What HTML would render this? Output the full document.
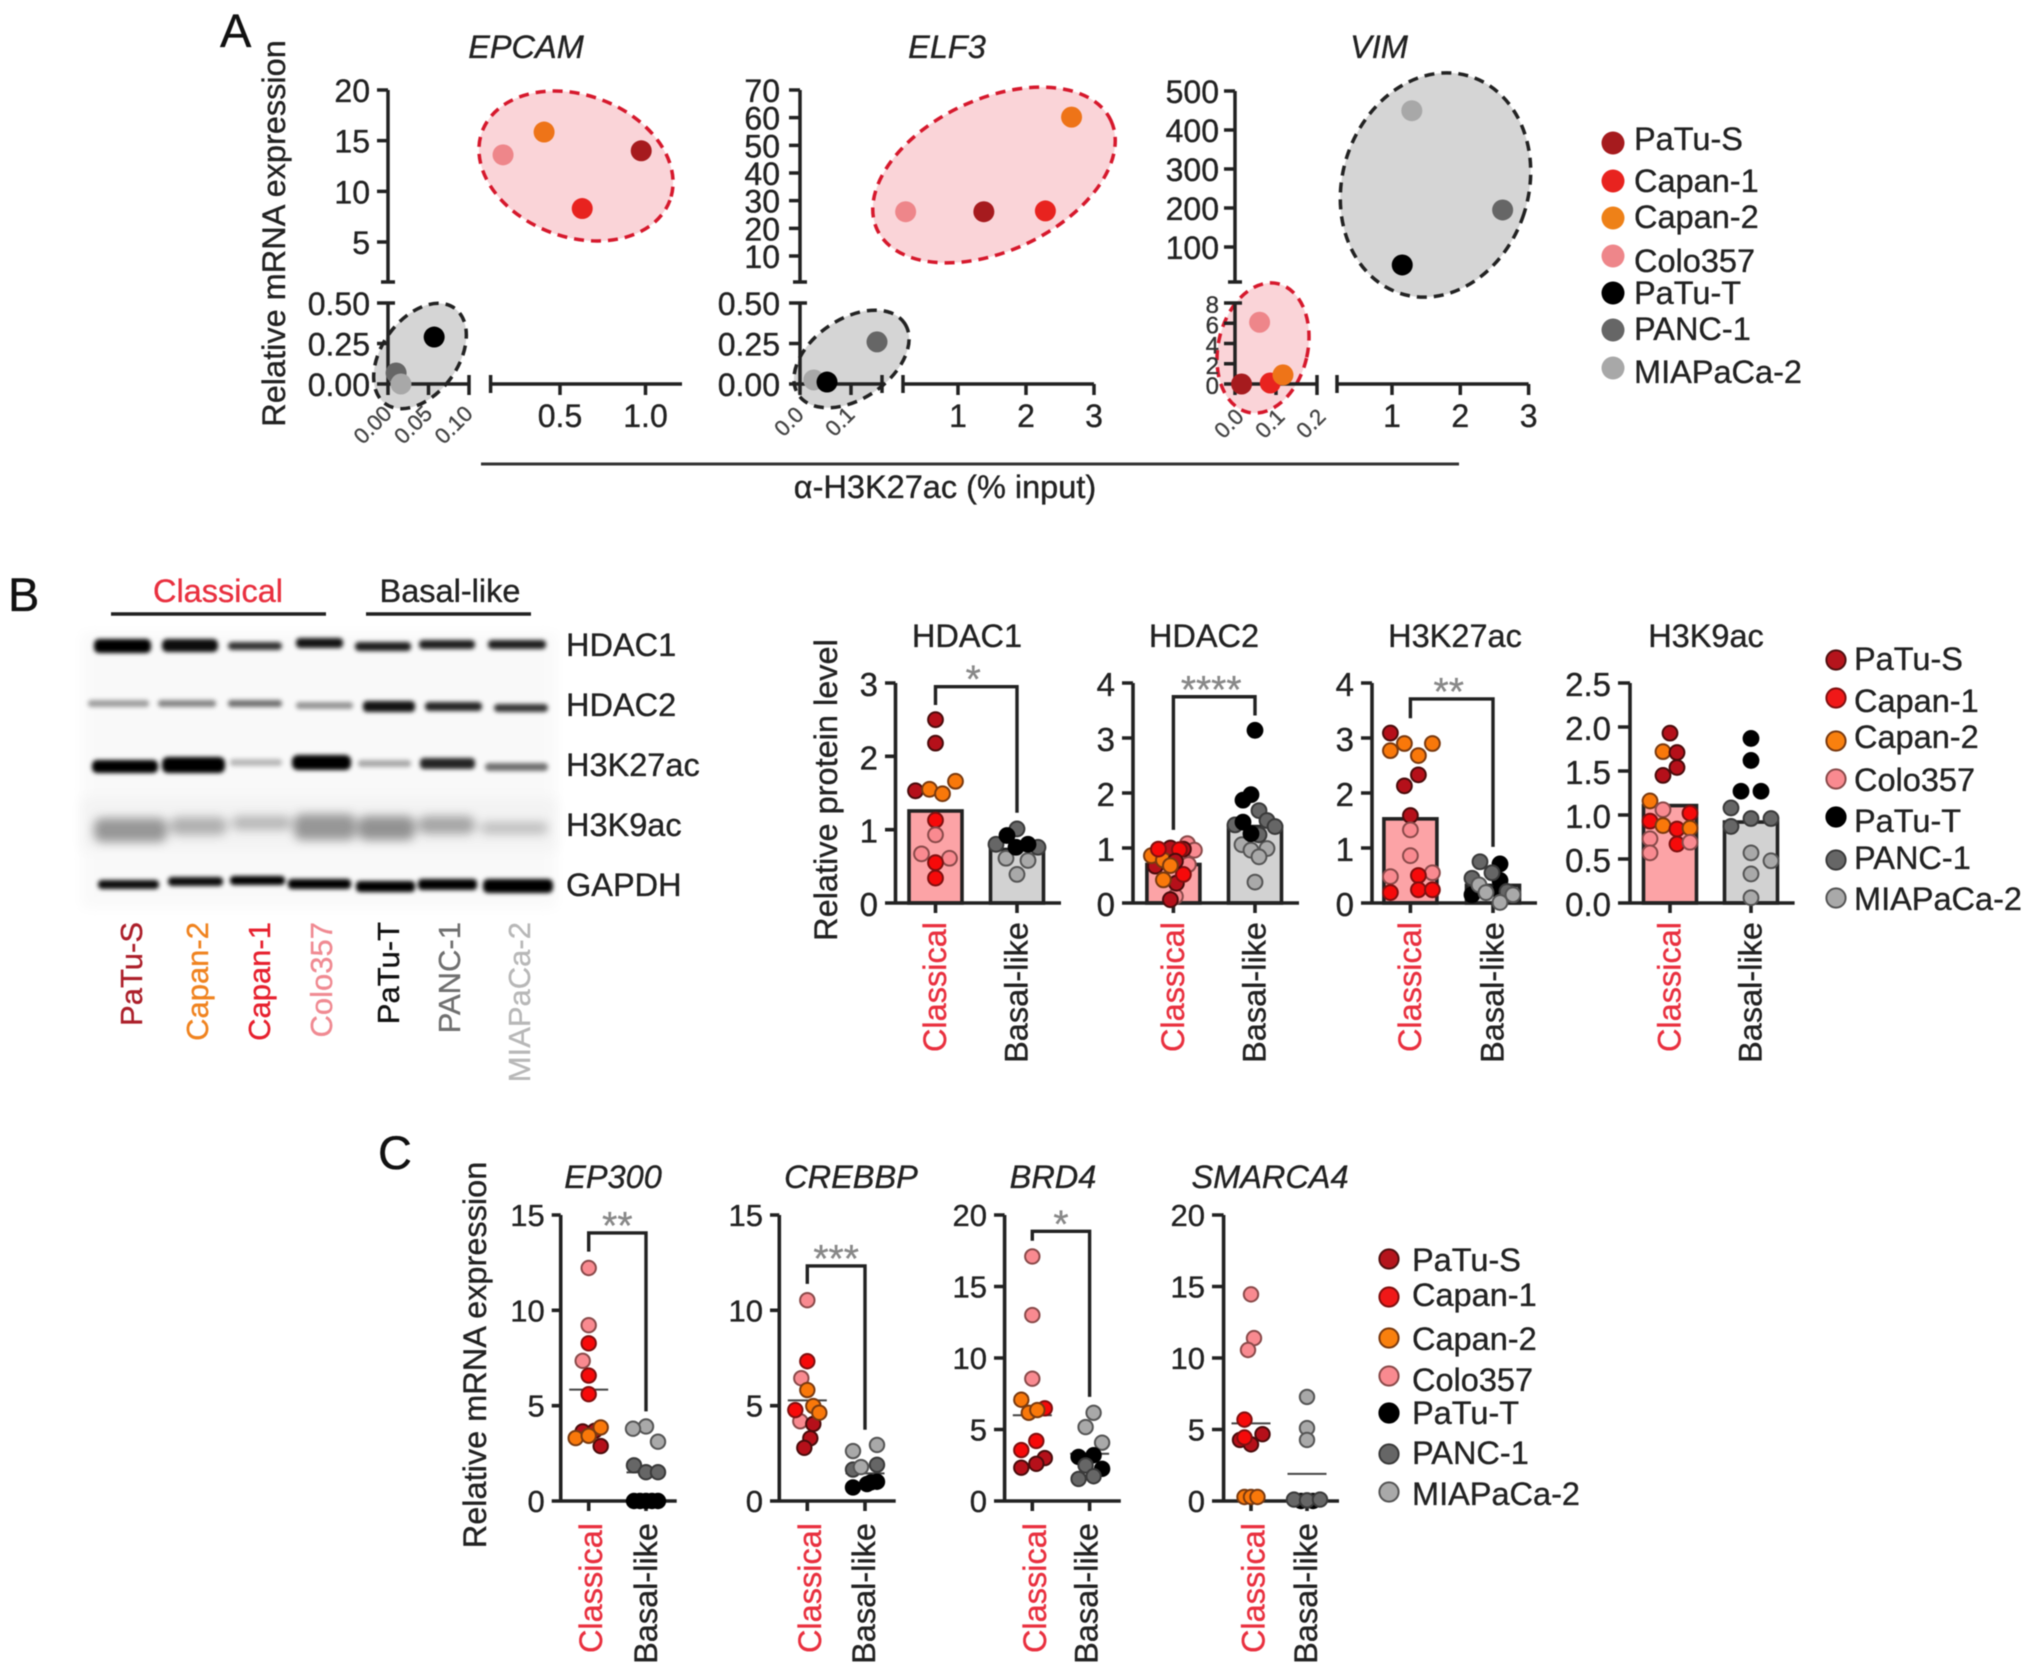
<!DOCTYPE html>
<html lang="en">
<head>
<meta charset="utf-8">
<title>Classical and basal-like cell line expression figure</title>
<style>
html,body{margin:0;padding:0;background:#fff;width:2032px;height:1672px;overflow:hidden}
svg{display:block;filter:blur(.55px)}
text{font-family:"Liberation Sans",Arial,sans-serif;fill:#222;stroke:#222;stroke-width:.35px}
.t32{font-size:32.5px}
.it{font-size:32.5px;font-style:italic}
.red{fill:#e9303f;stroke:#e9303f}
.letter{font-size:47px;fill:#111;stroke:#111}
</style>
</head>
<body>
<svg id="figure" xmlns="http://www.w3.org/2000/svg" width="2032" height="1672" viewBox="0 0 2032 1672">
<defs>
<filter id="blot-blur" x="-20%" y="-100%" width="140%" height="300%"><feGaussianBlur stdDeviation="2.1"/></filter>
<filter id="blot-blur-soft" x="-20%" y="-100%" width="140%" height="300%"><feGaussianBlur stdDeviation="5"/></filter>
<filter id="blot-bg-blur" x="-5%" y="-20%" width="110%" height="140%"><feGaussianBlur stdDeviation="6"/></filter>
</defs>
<rect width="2032" height="1672" fill="#fff"/>

<!-- Panel letters -->
<text class="letter" x="220" y="47">A</text>
<text class="letter" x="8" y="611">B</text>
<text class="letter" x="378" y="1169">C</text>

<!-- Panel A static text -->
<g>
<text class="it" x="526" y="58" text-anchor="middle">EPCAM</text>
<text class="it" x="947" y="58" text-anchor="middle">ELF3</text>
<text class="it" x="1379" y="58" text-anchor="middle">VIM</text>
<text class="t32" transform="translate(285 233.5) rotate(-90)" text-anchor="middle">Relative mRNA expression</text>
<line x1="481" y1="464" x2="1459" y2="464" stroke="#333" stroke-width="3"/>
<text class="t32" x="945" y="498" text-anchor="middle">α-H3K27ac (% input)</text>
</g>

<!-- Legend A -->
<g>
<g><circle cx="1613" cy="143" r="11.5" fill="#a61b1e"/><text class="t32" x="1634" y="150">PaTu-S</text></g>
<g><circle cx="1613" cy="181" r="11.5" fill="#e8231f"/><text class="t32" x="1634" y="192">Capan-1</text></g>
<g><circle cx="1613" cy="218" r="11.5" fill="#ee8118"/><text class="t32" x="1634" y="228">Capan-2</text></g>
<g><circle cx="1613" cy="256" r="11.5" fill="#ee868a"/><text class="t32" x="1634" y="272">Colo357</text></g>
<g><circle cx="1613" cy="293" r="11.5" fill="#000"/><text class="t32" x="1634" y="304">PaTu-T</text></g>
<g><circle cx="1613" cy="330" r="11.5" fill="#666"/><text class="t32" x="1634" y="340">PANC-1</text></g>
<g><circle cx="1613" cy="368" r="11.5" fill="#a8a8a8"/><text class="t32" x="1634" y="383">MIAPaCa-2</text></g>
</g>

<!-- Panel B western blot -->
<g>
<rect x="82" y="633" width="474" height="275" fill="#f9f9f9" filter="url(#blot-bg-blur)"/>
<rect x="82" y="798" width="474" height="52" fill="#f3f3f3" filter="url(#blot-bg-blur)"/>
<g filter="url(#blot-blur)" fill="#000">
<rect x="94" y="639" width="57" height="14" rx="5"/>
<rect x="162" y="639" width="56" height="13" rx="5" opacity=".95"/>
<rect x="228" y="642" width="54" height="8" rx="4" opacity=".8"/>
<rect x="296" y="638" width="47" height="10" rx="4" opacity=".92"/>
<rect x="355" y="642" width="56" height="9" rx="4" opacity=".88"/>
<rect x="419" y="640" width="56" height="9" rx="4" opacity=".88"/>
<rect x="488" y="640" width="58" height="9" rx="4" opacity=".88"/>
</g>
<g filter="url(#blot-blur)" fill="#000">
<rect x="88" y="700" width="61" height="7" rx="3" opacity=".36"/>
<rect x="158" y="700" width="58" height="7" rx="3" opacity=".46"/>
<rect x="228" y="700" width="54" height="7" rx="3" opacity=".55"/>
<rect x="296" y="702" width="57" height="7" rx="3" opacity=".4"/>
<rect x="363" y="701" width="52" height="11" rx="4" opacity=".92"/>
<rect x="425" y="702" width="57" height="9" rx="4" opacity=".85"/>
<rect x="494" y="704" width="54" height="8" rx="4" opacity=".78"/>
</g>
<g filter="url(#blot-blur)" fill="#000">
<rect x="92" y="760" width="66" height="13" rx="5"/>
<rect x="162" y="757" width="63" height="16" rx="6"/>
<rect x="230" y="759" width="52" height="7" rx="3" opacity=".26"/>
<rect x="292" y="755" width="59" height="15" rx="6"/>
<rect x="358" y="760" width="53" height="7" rx="3" opacity=".32"/>
<rect x="420" y="758" width="55" height="11" rx="4" opacity=".85"/>
<rect x="485" y="763" width="63" height="8" rx="4" opacity=".55"/>
</g>
<g filter="url(#blot-blur-soft)" fill="#000">
<rect x="94" y="818" width="73" height="24" rx="8" opacity=".38"/>
<rect x="170" y="817" width="57" height="18" rx="8" opacity=".28"/>
<rect x="232" y="816" width="59" height="14" rx="6" opacity=".25"/>
<rect x="294" y="814" width="62" height="26" rx="8" opacity=".38"/>
<rect x="358" y="816" width="57" height="24" rx="8" opacity=".4"/>
<rect x="418" y="816" width="57" height="18" rx="8" opacity=".32"/>
<rect x="480" y="822" width="68" height="12" rx="6" opacity=".22"/>
</g>
<g filter="url(#blot-blur)" fill="#000">
<rect x="98" y="880" width="61" height="9" rx="4" opacity=".95"/>
<rect x="168" y="877" width="55" height="9" rx="4" opacity=".95"/>
<rect x="230" y="876" width="55" height="9" rx="4"/>
<rect x="288" y="879" width="63" height="10" rx="4"/>
<rect x="356" y="881" width="59" height="11" rx="4"/>
<rect x="418" y="879" width="59" height="11" rx="4"/>
<rect x="483" y="879" width="70" height="14" rx="5"/>
</g>
<text class="t32 red" x="218" y="602" text-anchor="middle">Classical</text>
<text class="t32" x="450" y="602" text-anchor="middle">Basal-like</text>
<line x1="111" y1="614" x2="326" y2="614" stroke="#222" stroke-width="3.4"/>
<line x1="366" y1="614" x2="531" y2="614" stroke="#222" stroke-width="3.4"/>
<text class="t32" x="566" y="656">HDAC1</text>
<text class="t32" x="566" y="716">HDAC2</text>
<text class="t32" x="566" y="776">H3K27ac</text>
<text class="t32" x="566" y="836">H3K9ac</text>
<text class="t32" x="566" y="896">GAPDH</text>
<g text-anchor="end">
<text transform="translate(142 922) rotate(-90)" style="fill:#ac1f2a;stroke:#ac1f2a;font-size:31px">PaTu-S</text>
<text transform="translate(208 922) rotate(-90)" style="fill:#f0831f;stroke:#f0831f;font-size:31px">Capan-2</text>
<text transform="translate(270 922) rotate(-90)" style="fill:#e7202e;stroke:#e7202e;font-size:31px">Capan-1</text>
<text transform="translate(332 922) rotate(-90)" style="fill:#f08a92;stroke:#f08a92;font-size:31px">Colo357</text>
<text transform="translate(399 922) rotate(-90)" style="fill:#111;stroke:#111;font-size:31px">PaTu-T</text>
<text transform="translate(460 922) rotate(-90)" style="fill:#707070;stroke:#707070;font-size:31px">PANC-1</text>
<text transform="translate(530 922) rotate(-90)" style="fill:#b8b8b8;stroke:#b8b8b8;font-size:31px">MIAPaCa-2</text>
</g>
</g>

<!-- Panel B static text -->
<g>
<text class="t32" transform="translate(837 790) rotate(-90)" text-anchor="middle">Relative protein level</text>
<text class="t32" x="967" y="647" text-anchor="middle">HDAC1</text>
<text class="t32" x="1204" y="647" text-anchor="middle">HDAC2</text>
<text class="t32" x="1455" y="647" text-anchor="middle">H3K27ac</text>
<text class="t32" x="1706" y="647" text-anchor="middle">H3K9ac</text>
</g>

<!-- Legend B -->
<g stroke-width="2">
<g><circle cx="1836" cy="660" r="9.6" fill="#b5141c" stroke="#501010"/><text class="t32" x="1854" y="670">PaTu-S</text></g>
<g><circle cx="1836" cy="698" r="9.6" fill="#f01818" stroke="#801010"/><text class="t32" x="1854" y="712">Capan-1</text></g>
<g><circle cx="1836" cy="741" r="9.6" fill="#f9800e" stroke="#7a3a10"/><text class="t32" x="1854" y="748">Capan-2</text></g>
<g><circle cx="1836" cy="779" r="9.6" fill="#f98a90" stroke="#8a4a4a"/><text class="t32" x="1854" y="791">Colo357</text></g>
<g><circle cx="1836" cy="817" r="9.6" fill="#000" stroke="#000"/><text class="t32" x="1854" y="832">PaTu-T</text></g>
<g><circle cx="1836" cy="860" r="9.6" fill="#666" stroke="#3a3a3a"/><text class="t32" x="1854" y="869">PANC-1</text></g>
<g><circle cx="1836" cy="898" r="9.6" fill="#a9a9a9" stroke="#555"/><text class="t32" x="1854" y="910">MIAPaCa-2</text></g>
</g>

<!-- Panel C static text -->
<g>
<text class="t32" transform="translate(486 1355) rotate(-90)" text-anchor="middle">Relative mRNA expression</text>
<text class="it" x="613" y="1188" text-anchor="middle">EP300</text>
<text class="it" x="851" y="1188" text-anchor="middle">CREBBP</text>
<text class="it" x="1053" y="1188" text-anchor="middle">BRD4</text>
<text class="it" x="1270" y="1188" text-anchor="middle">SMARCA4</text>
</g>

<!-- Legend C -->
<g stroke-width="2">
<g><circle cx="1389" cy="1259" r="9.6" fill="#b5141c" stroke="#501010"/><text class="t32" x="1412" y="1271">PaTu-S</text></g>
<g><circle cx="1389" cy="1297" r="9.6" fill="#f01818" stroke="#801010"/><text class="t32" x="1412" y="1306">Capan-1</text></g>
<g><circle cx="1389" cy="1338" r="9.6" fill="#f9800e" stroke="#7a3a10"/><text class="t32" x="1412" y="1350">Capan-2</text></g>
<g><circle cx="1389" cy="1376" r="9.6" fill="#f98a90" stroke="#8a4a4a"/><text class="t32" x="1412" y="1391">Colo357</text></g>
<g><circle cx="1389" cy="1413" r="9.6" fill="#000" stroke="#000"/><text class="t32" x="1412" y="1424">PaTu-T</text></g>
<g><circle cx="1389" cy="1454" r="9.6" fill="#666" stroke="#3a3a3a"/><text class="t32" x="1412" y="1464">PANC-1</text></g>
<g><circle cx="1389" cy="1492" r="9.6" fill="#a9a9a9" stroke="#555"/><text class="t32" x="1412" y="1505">MIAPaCa-2</text></g>
</g>

<g id="chart-marks"></g>
</svg>

<script>
/* ---------- shared tick labels ---------- */
const ticks0to3 = [0, 1, 2, 3];
const ticks0to4 = [0, 1, 2, 3, 4];
const ticksH3k9ac = [0, 0.5, 1, 1.5, 2, 2.5];
const ticksH3k9acLabels = ['0.0', '0.5', '1.0', '1.5', '2.0', '2.5'];
const ticks0to15 = [0, 5, 10, 15];
const ticks0to20 = [0, 5, 10, 15, 20];
const groupNames = ['Classical', 'Basal-like'];

/* ---------- Panel A: scatter values ---------- */
const epcamCells = ['CO', 'C2', 'S', 'C1', 'T', 'P', 'M'];
const epcamAcetylation = [0.167, 0.407, 0.975, 0.63, 0.057, 0.01, 0.016];
const epcamExpression = [13.6, 15.85, 14.0, 8.3, 0.29, 0.068, 0.0];
const epcamUpperYTicks = [5, 10, 15, 20];
const epcamLowerYTicks = [0, 0.25, 0.5];
const epcamLowerYLabels = ['0.00', '0.25', '0.50'];
const epcamLowerXTicks = [0, 0.05, 0.1];
const epcamLowerXLabels = ['0.00', '0.05', '0.10'];
const epcamUpperXTicks = [0.5, 1.0];
const epcamUpperXLabels = ['0.5', '1.0'];

const elf3Cells = ['CO', 'S', 'C1', 'C2', 'P', 'M', 'T'];
const elf3Acetylation = [0.23, 1.38, 2.285, 2.67, 0.151, 0.027, 0.053];
const elf3Expression = [26, 26, 26.3, 60.2, 0.26, 0.025, 0.012];
const elf3UpperYTicks = [10, 20, 30, 40, 50, 60, 70];
const elf3LowerYTicks = [0, 0.25, 0.5];
const elf3LowerYLabels = ['0.00', '0.25', '0.50'];
const elf3LowerXTicks = [0, 0.1];
const elf3LowerXLabels = ['0.0', '0.1'];
const elf3UpperXTicks = [1, 2, 3];
const elf3UpperXLabels = ['1', '2', '3'];

const vimCells = ['M', 'P', 'T', 'CO', 'S', 'C1', 'C2'];
const vimAcetylation = [1.29, 2.62, 1.15, 0.06, 0.016, 0.086, 0.117];
const vimExpression = [449.5, 195, 54, 6.1, 0, 0.1, 0.9];
const vimUpperYTicks = [100, 200, 300, 400, 500];
const vimLowerYTicks = [0, 2, 4, 6, 8];
const vimLowerYLabels = ['0', '2', '4', '6', '8'];
const vimLowerXTicks = [0, 0.1, 0.2];
const vimLowerXLabels = ['0.0', '0.1', '0.2'];
const vimUpperXTicks = [1, 2, 3];
const vimUpperXLabels = ['1', '2', '3'];

/* ---------- Panel B: bar heights ---------- */
const hdac1Means = [1.255, 0.73];
const hdac2Means = [0.70, 1.39];
const h3k27acMeans = [1.53, 0.32];
const h3k9acMeans = [1.107, 0.92];

/* ---------- Panel B: HDAC1 ---------- */
const hdac1ClassicalValues = [2.5, 2.18, 1.53, 1.55, 1.49, 1.66, 1.13, 0.93, 0.67, 0.61, 0.55, 0.34];
const hdac1ClassicalCells = ['S', 'S', 'S', 'C2', 'C2', 'C2', 'C1', 'CO', 'CO', 'CO', 'C1', 'C1'];
const hdac1ClassicalSwarm = [0, 0, -2, -0.6, 0.7, 2, 0, 0, -1.4, 1.4, 0, 0];
const hdac1BasalValues = [0.61, 0.58, 0.39, 1.01, 0.8, 0.76, 0.92, 0.76, 0.8];
const hdac1BasalCells = ['M', 'M', 'M', 'P', 'P', 'P', 'T', 'T', 'T'];
const hdac1BasalSwarm = [-1.1, 1.1, 0, 0, -2.1, 2.1, -1, -0.1, 1.1];

/* ---------- Panel B: HDAC2 ---------- */
const hdac2ClassicalValues = [1.08, 0.96, 0.12, 0.7, 0.88, 0.06, 0.36, 0.67, 1.0, 0.98, 0.86, 0.78, 0.42, 0.98, 0.52, 0.97, 0.76, 0.68];
const hdac2ClassicalCells = ['CO', 'CO', 'CO', 'CO', 'CO', 'S', 'S', 'S', 'S', 'S', 'C2', 'C2', 'C2', 'C1', 'C1', 'C1', 'S', 'C2'];
const hdac2ClassicalSwarm = [1.4, 2.1, 0.2, 1.5, -0.8, -0.3, 0.3, -1.8, -0.3, 1, -2.2, -1, -1, -1.5, 1, 0.6, 0.2, -0.3];
const hdac2BasalValues = [1.06, 0.96, 0.99, 0.84, 0.38, 1.68, 1.5, 1.39, 1.42, 1.24, 3.14, 1.97, 1.87, 1.47, 1.26];
const hdac2BasalCells = ['M', 'M', 'M', 'M', 'M', 'P', 'P', 'P', 'P', 'P', 'T', 'T', 'T', 'T', 'T'];
const hdac2BasalSwarm = [-1.3, -0.4, 1.2, 0.4, 0, 0.4, 1.2, 2, -2, 0.4, 0, -0.4, -1.2, -1.2, -0.4];

/* ---------- Panel B: H3K27ac ---------- */
const h3k27acClassicalValues = [3.09, 2.77, 2.9, 2.68, 2.9, 2.33, 2.13, 1.59, 1.33, 0.86, 0.48, 0.55, 0.5, 0.24, 0.24, 0.19];
const h3k27acClassicalCells = ['S', 'C2', 'C2', 'C2', 'C2', 'S', 'S', 'S', 'CO', 'CO', 'CO', 'CO', 'C1', 'C1', 'C1', 'C1'];
const h3k27acClassicalSwarm = [-2, -2, -0.6, 0.8, 2.2, 0.8, -0.6, 0, 0, 0, -2, 2.2, 0.8, 0.8, 2.2, -2];
const h3k27acBasalValues = [0.15, 0.21, 0.41, 0.71, 0.75, 0.55, 0.45, 0.21, 0.33, 0.19, 0.15, 0.01];
const h3k27acBasalCells = ['T', 'T', 'T', 'T', 'P', 'P', 'P', 'P', 'M', 'M', 'M', 'M'];
const h3k27acBasalSwarm = [-2.1, 0.7, 0.7, 0.7, -1.3, -0.1, -2.1, 1.4, -1.4, -0.7, 2, 0.7];

/* ---------- Panel B: H3K9ac ---------- */
const h3k9acClassicalValues = [1.93, 1.72, 1.71, 1.54, 1.45, 1.16, 1.06, 1.02, 0.93, 0.88, 0.84, 0.85, 0.73, 0.67, 0.69, 0.57];
const h3k9acClassicalCells = ['S', 'C2', 'S', 'S', 'S', 'C2', 'CO', 'C1', 'C1', 'C2', 'C1', 'C2', 'CO', 'C1', 'CO', 'CO'];
const h3k9acClassicalSwarm = [0, -0.7, 0.7, 0.7, -0.7, -2, -0.7, 2, -2, -0.7, 0.7, 2, -2, 0.7, 2, -2];
const h3k9acBasalValues = [1.87, 1.62, 1.27, 1.27, 1.08, 0.96, 0.96, 0.87, 0.57, 0.48, 0.33, 0.06];
const h3k9acBasalCells = ['T', 'T', 'T', 'T', 'P', 'P', 'P', 'P', 'M', 'M', 'M', 'M'];
const h3k9acBasalSwarm = [0, 0, -1, 1, -2, 0, 2, -2, 0, 2, 0, 0];

/* ---------- Panel C: mean lines ---------- */
const ep300Means = [5.84, 1.5];
const crebbpMeans = [5.28, 1.45];
const brd4Means = [6.0, 3.3];
const smarca4Means = [5.43, 1.9];

/* ---------- Panel C: EP300 ---------- */
const ep300ClassicalValues = [12.22, 9.22, 8.27, 7.35, 6.58, 5.6, 3.65, 3.68, 2.88, 3.86, 3.3, 3.42];
const ep300ClassicalCells = ['CO', 'CO', 'C1', 'CO', 'C1', 'C1', 'S', 'S', 'S', 'C2', 'C2', 'C2'];
const ep300ClassicalSwarm = [0, 0, 0, -0.6, 0, 0, -0.6, 0.6, 1.2, 1.2, -1.3, 0];
const ep300BasalValues = [3.91, 3.79, 3.11, 1.87, 1.51, 1.51, 0, 0, 0, 0, 0];
const ep300BasalCells = ['M', 'M', 'M', 'P', 'P', 'P', 'T', 'T', 'T', 'T', 'T'];
const ep300BasalSwarm = [0, -1.3, 1.2, -1.2, 0, 1.2, -1.2, 0, 1.2, -0.6, 0.6];

/* ---------- Panel C: CREBBP ---------- */
const crebbpClassicalValues = [10.53, 7.33, 6.44, 4.18, 4.04, 3.29, 2.79, 4.77, 5.82, 4.98, 4.63];
const crebbpClassicalCells = ['CO', 'C1', 'CO', 'CO', 'S', 'S', 'S', 'C1', 'C2', 'C2', 'C2'];
const crebbpClassicalSwarm = [0, 0, -0.6, -0.7, 0.6, 0.3, -0.3, -1.2, 0, 0.6, 1.2];
const crebbpBasalValues = [2.94, 2.62, 1.9, 1.65, 1.78, 1.01, 0.89, 0.71, 0.98];
const crebbpBasalCells = ['M', 'M', 'P', 'P', 'M', 'T', 'T', 'T', 'T'];
const crebbpBasalSwarm = [1.2, -1.2, 1.2, -1.2, -0.4, 1.2, 0.2, -1.2, 0.6];

/* ---------- Panel C: BRD4 ---------- */
const brd4ClassicalValues = [17.1, 13.0, 8.55, 6.48, 4.2, 3.56, 3.0, 2.6, 2.33, 7.08, 6.17, 6.36];
const brd4ClassicalCells = ['CO', 'CO', 'CO', 'C1', 'C1', 'C1', 'S', 'S', 'S', 'C2', 'C2', 'C2'];
const brd4ClassicalSwarm = [0, 0, 0, 1.25, 0.4, -1.1, 1.25, 0.4, -1.1, -1.1, -0.35, 0.5];
const brd4BasalValues = [6.17, 5.17, 4.08, 3.08, 3.2, 2.25, 2.49, 1.54, 1.73];
const brd4BasalCells = ['M', 'M', 'M', 'T', 'T', 'T', 'P', 'P', 'P'];
const brd4BasalSwarm = [0.4, -0.4, 1.25, -1.1, 0.4, 1.25, -0.4, -1.1, 0.4];

/* ---------- Panel C: SMARCA4 ---------- */
const smarca4ClassicalValues = [14.45, 11.39, 10.56, 5.69, 4.67, 4.27, 3.96, 4.44, 0.28, 0.28, 0.28];
const smarca4ClassicalCells = ['CO', 'CO', 'CO', 'C1', 'S', 'S', 'S', 'C1', 'C2', 'C2', 'C2'];
const smarca4ClassicalSwarm = [0, 0.3, -0.3, -0.65, 1.15, -1.1, 0, -0.65, -0.65, 0, 0.65];
const smarca4BasalValues = [7.28, 5.1, 4.27, 0, 0, 0.1, 0.05, 0.1];
const smarca4BasalCells = ['M', 'M', 'M', 'T', 'T', 'P', 'P', 'P'];
const smarca4BasalSwarm = [0, 0, 0, -0.6, 0.6, -1.3, 0, 1.3];

/* ---------- palette ---------- */
const softFill = {S:'#a61b1e', C1:'#e8231f', C2:'#ee7418', CO:'#ee868a', T:'#000', P:'#666', M:'#a8a8a8'};
const markFill = {S:'#b5101a', C1:'#f60a0a', C2:'#f9780a', CO:'#f98a90', T:'#000', P:'#666', M:'#a9a9a9'};
const markLine = {S:'#4a0c0c', C1:'#801010', C2:'#7a3a10', CO:'#8a4a4a', T:'#000', P:'#3a3a3a', M:'#555'};
const cellNames = {S:'patu-s', C1:'capan-1', C2:'capan-2', CO:'colo357', T:'patu-t', P:'panc-1', M:'miapaca-2'};

const INK = '#222';
const root = document.getElementById('chart-marks');

function make(tag, attrs, parent) {
  const e = document.createElementNS('http://www.w3.org/2000/svg', tag);
  for (const k in attrs) e.setAttribute(k, attrs[k]);
  parent.appendChild(e);
  return e;
}
function linear(d0, d1, r0, r1) {
  return v => r0 + (v - d0) * (r1 - r0) / (d1 - d0);
}
function stroked(d, parent, width) {
  return make('path', {d: d, fill: 'none', stroke: INK, 'stroke-width': width || 3.5}, parent);
}
function label(parent, x, y, str, size, anchor, fill) {
  const t = make('text', {x: x, y: y, 'text-anchor': anchor}, parent);
  t.style.fontSize = size + 'px';
  if (fill) {
    t.style.fill = fill;
    t.style.stroke = fill;
  }
  t.textContent = str;
  return t;
}

/* ---------- Panel A renderer ---------- */
function scatterPanel(c) {
  const g = make('g', {}, root);
  
  

  c.ellipses.forEach(function (s) {
    const isPink = s.kind === 'classical';
    const ell = make('ellipse', {
      cx: 0, cy: 0, rx: s.rx, ry: s.ry,
      transform: 'translate(' + s.cx + ' ' + s.cy + ') rotate(' + s.rot + ')',
      fill: isPink ? '#fad4d8' : '#d5d5d5',
      stroke: isPink ? '#d6182c' : '#222',
      'stroke-width': 3.5, 'stroke-dasharray': '10 7'
    }, g);
    
    
  });

  const yU = linear(c.yU[0], c.yU[1], c.yU[2], c.yU[3]);
  const yL = linear(c.yL[0], c.yL[1], c.yL[2], c.yL[3]);
  const xU = linear(c.xU[0], c.xU[1], c.xU[2], c.xU[3]);
  const xL = linear(c.xL[0], c.xL[1], c.xL[2], c.xL[3]);
  const x0 = xL(0), yBase = yL(0), yLowTop = yL(c.yL[1]), yUpTop = yU(c.yU[1]);

  let d = 'M' + x0 + ' ' + yUpTop + 'V282M' + (x0 - 7) + ' 282H' + (x0 + 7);
  c.upperY.forEach(function (v) { d += 'M' + (x0 - 11) + ' ' + yU(v) + 'H' + x0; });
  d += 'M' + x0 + ' ' + yLowTop + 'V' + yBase + 'M' + (x0 - 10) + ' ' + yLowTop + 'H' + (x0 + 7);
  c.lowerY.forEach(function (v) { d += 'M' + (x0 - 11) + ' ' + yL(v) + 'H' + x0; });
  const yAxis = stroked(d, g);
  
  

  d = 'M' + x0 + ' ' + yBase + 'H' + c.lowEnd + 'M' + c.lowEnd + ' ' + (yBase - 9) + 'V' + (yBase + 9);
  c.lowerX.forEach(function (v) { d += 'M' + xL(v) + ' ' + yBase + 'V' + (yBase + 11); });
  d += 'M' + c.upStart + ' ' + yBase + 'H' + c.upEnd + 'M' + c.upStart + ' ' + (yBase - 9) + 'V' + (yBase + 9);
  c.upperX.forEach(function (v) { d += 'M' + xU(v) + ' ' + yBase + 'V' + (yBase + 11); });
  const xAxis = stroked(d, g);
  
  

  c.upperY.forEach(function (v) {
    const t = label(g, x0 - c.tickGap, yU(v) + 12, String(v), 32, 'end');
    
    
  });
  c.lowerY.forEach(function (v, i) {
    const t = label(g, x0 - c.tickGap, yL(v) + (c.smallLow ? 10 : 12), c.lowerYLabels[i], c.smallLow ? 24 : 32, 'end', c.smallLow ? '#333' : null);
    
    
  });
  c.upperX.forEach(function (v, i) {
    const t = label(g, xU(v), 427, c.upperXLabels[i], 32, 'middle');
    
    
  });
  c.lowerX.forEach(function (v, i) {
    const px = xL(v) + c.rotDx, py = c.rotY;
    const t = label(g, px, py, c.lowerXLabels[i], 22, 'end', '#444');
    t.setAttribute('transform', 'rotate(-45 ' + px + ' ' + py + ')');
    
    
  });

  c.cells.forEach(function (cell, i) {
    const xv = c.acetylation[i], yv = c.expression[i];
    const p = make('circle', {
      cx: xv > c.breakX ? xU(xv) : xL(xv),
      cy: yv > c.breakY ? yU(yv) : yL(yv),
      r: 10.5, fill: softFill[cell]
    }, g);
    
    
  });
}

scatterPanel({
  name: 'epcam', cells: epcamCells, acetylation: epcamAcetylation, expression: epcamExpression,
  upperY: epcamUpperYTicks, lowerY: epcamLowerYTicks, lowerYLabels: epcamLowerYLabels,
  lowerX: epcamLowerXTicks, lowerXLabels: epcamLowerXLabels, upperX: epcamUpperXTicks, upperXLabels: epcamUpperXLabels,
  yU: [5, 20, 242, 90], yL: [0, 0.5, 384, 303], xU: [0.5, 1.0, 560, 645.5], xL: [0, 0.1, 388, 469],
  breakX: 0.1, breakY: 0.75, lowEnd: 469, upStart: 490.6, upEnd: 682, tickGap: 18, rotDx: 5, rotY: 415,
  ellipses: [
    {kind: 'classical', cx: 576, cy: 166, rx: 100, ry: 71, rot: 20},
    {kind: 'basal', cx: 420, cy: 356, rx: 38, ry: 59, rot: 36}
  ]
});
scatterPanel({
  name: 'elf3', cells: elf3Cells, acetylation: elf3Acetylation, expression: elf3Expression,
  upperY: elf3UpperYTicks, lowerY: elf3LowerYTicks, lowerYLabels: elf3LowerYLabels,
  lowerX: elf3LowerXTicks, lowerXLabels: elf3LowerXLabels, upperX: elf3UpperXTicks, upperXLabels: elf3UpperXLabels,
  yU: [10, 70, 256, 90], yL: [0, 0.5, 384, 303], xU: [1, 3, 958, 1094], xL: [0, 0.1, 800, 851],
  breakX: 0.18, breakY: 0.75, lowEnd: 882, upStart: 903, upEnd: 1094, tickGap: 20, rotDx: 5, rotY: 416,
  ellipses: [
    {kind: 'classical', cx: 994, cy: 175, rx: 129, ry: 76, rot: -25},
    {kind: 'basal', cx: 851.5, cy: 359, rx: 64, ry: 40, rot: -34}
  ]
});
scatterPanel({
  name: 'vim', cells: vimCells, acetylation: vimAcetylation, expression: vimExpression,
  upperY: vimUpperYTicks, lowerY: vimLowerYTicks, lowerYLabels: vimLowerYLabels,
  lowerX: vimLowerXTicks, lowerXLabels: vimLowerXLabels, upperX: vimUpperXTicks, upperXLabels: vimUpperXLabels,
  yU: [100, 500, 247, 91], yL: [0, 8, 384, 303], xU: [1, 3, 1392, 1528.6], xL: [0, 0.2, 1235, 1317],
  breakX: 0.19, breakY: 9, lowEnd: 1317, upStart: 1337, upEnd: 1528.6, tickGap: 16, rotDx: 10, rotY: 418, smallLow: true,
  ellipses: [
    {kind: 'basal', cx: 1435.5, cy: 185, rx: 93, ry: 114, rot: 18},
    {kind: 'classical', cx: 1263, cy: 348, rx: 44.7, ry: 66, rot: 13}
  ]
});

/* ---------- Panels B and C renderer ---------- */
function groupChart(c) {
  const g = make('g', {}, root);
  
  
  const y = linear(0, c.yMax, c.y0, c.yTop);
  const x = i => c.centers[i];

  if (c.bars) {
    c.means.forEach(function (m, i) {
      const b = make('rect', {
        x: x(i) - 26.5, y: y(m), width: 53, height: c.y0 - y(m),
        fill: i === 0 ? '#fca3a6' : '#d2d2d2', stroke: INK, 'stroke-width': 3.6
      }, g);
      
      
    });
  }

  let d = 'M' + c.axisX + ' ' + y(c.yMax) + 'V' + c.y0 + 'M' + c.left + ' ' + c.y0 + 'H' + c.right;
  c.ticks.forEach(function (v) { d += 'M' + c.left + ' ' + y(v) + 'H' + c.axisX; });
  c.centers.forEach(function (cx) { d += 'M' + cx + ' ' + c.y0 + 'V' + (c.y0 + 10); });
  const axes = stroked(d, g, 3.6);
  
  

  c.ticks.forEach(function (v, i) {
    const str = c.tickLabels ? c.tickLabels[i] : String(v);
    const t = label(g, c.left - 7, y(v) + c.tickDrop, str, c.tickSize, 'end');
    
    
  });

  groupNames.forEach(function (nm, i) {
    const bx = x(i) + c.labelDx[i];
    const t = label(g, 0, 0, nm, 32.5, 'end', i === 0 ? '#e9303f' : '#222');
    t.setAttribute('transform', 'translate(' + bx + ' ' + c.labelTop + ') rotate(-90)');
    
    
  });

  if (c.sig) {
    const s = c.sig;
    const top = y(s.top);
    const br = stroked('M' + x(0) + ' ' + y(s.left) + 'V' + top + 'H' + x(1) + 'V' + y(s.right), g, 3.4);
    
    
    const st = label(g, (x(0) + x(1)) / 2 + c.starDx, top + 6, s.stars, 39, 'middle', '#888');
    
    
  }

  if (!c.bars) {
    c.means.forEach(function (m, i) {
      const ml = make('line', {
        x1: x(i) - 19.5, x2: x(i) + 19.5, y1: y(m), y2: y(m), stroke: '#444', 'stroke-width': 2
      }, g);
      
      
    });
  }

  c.series.forEach(function (sr, i) {
    sr.values.forEach(function (v, k) {
      const cell = sr.cells[k];
      const p = make('circle', {
        cx: x(i) + sr.swarm[k] * 10, cy: y(v), r: c.bars ? 7.4 : 7.2,
        fill: markFill[cell], stroke: markLine[cell], 'stroke-width': 2
      }, g);
      
      
    });
  });
}

const barFrame = {bars: true, y0: 903, yTop: 683, tickSize: 33, tickDrop: 13, starDx: -3, labelTop: 922, labelDx: [10.5, 10.5]};
const dotFrame = {bars: false, y0: 1501, yTop: 1215, tickSize: 31, tickDrop: 11, starDx: 0, labelTop: 1523};

groupChart(Object.assign({}, barFrame, {
  name: 'hdac1', yMax: 3, axisX: 895.5, left: 885, right: 1061, centers: [935.5, 1017],
  ticks: ticks0to3, means: hdac1Means,
  sig: {top: 2.95, left: 2.7, right: 1.23, stars: '*'},
  series: [
    {values: hdac1ClassicalValues, cells: hdac1ClassicalCells, swarm: hdac1ClassicalSwarm},
    {values: hdac1BasalValues, cells: hdac1BasalCells, swarm: hdac1BasalSwarm}
  ]
}));
groupChart(Object.assign({}, barFrame, {
  name: 'hdac2', yMax: 4, axisX: 1133, left: 1122, right: 1299, centers: [1173.4, 1255],
  ticks: ticks0to4, means: hdac2Means,
  sig: {top: 3.75, left: 1.33, right: 3.41, stars: '****'},
  series: [
    {values: hdac2ClassicalValues, cells: hdac2ClassicalCells, swarm: hdac2ClassicalSwarm},
    {values: hdac2BasalValues, cells: hdac2BasalCells, swarm: hdac2BasalSwarm}
  ]
}));
groupChart(Object.assign({}, barFrame, {
  name: 'h3k27ac', yMax: 4, axisX: 1372, left: 1361, right: 1537, centers: [1410.4, 1493],
  ticks: ticks0to4, means: h3k27acMeans,
  sig: {top: 3.71, left: 3.36, right: 1.02, stars: '**'},
  series: [
    {values: h3k27acClassicalValues, cells: h3k27acClassicalCells, swarm: h3k27acClassicalSwarm},
    {values: h3k27acBasalValues, cells: h3k27acBasalCells, swarm: h3k27acBasalSwarm}
  ]
}));
groupChart(Object.assign({}, barFrame, {
  name: 'h3k9ac', yMax: 2.5, axisX: 1630, left: 1618, right: 1794.6, centers: [1670, 1751],
  ticks: ticksH3k9ac, tickLabels: ticksH3k9acLabels, means: h3k9acMeans,
  series: [
    {values: h3k9acClassicalValues, cells: h3k9acClassicalCells, swarm: h3k9acClassicalSwarm},
    {values: h3k9acBasalValues, cells: h3k9acBasalCells, swarm: h3k9acBasalSwarm}
  ]
}));

groupChart(Object.assign({}, dotFrame, {
  name: 'ep300', yMax: 15, axisX: 560.7, left: 551.7, right: 676.7, centers: [588.7, 646], labelDx: [13.5, 11],
  ticks: ticks0to15, means: ep300Means,
  sig: {top: 14.06, left: 13.08, right: 4.7, stars: '**'},
  series: [
    {values: ep300ClassicalValues, cells: ep300ClassicalCells, swarm: ep300ClassicalSwarm},
    {values: ep300BasalValues, cells: ep300BasalCells, swarm: ep300BasalSwarm}
  ]
}));
groupChart(Object.assign({}, dotFrame, {
  name: 'crebbp', yMax: 15, axisX: 779.3, left: 770, right: 895.7, centers: [807.3, 865], labelDx: [13.5, 10],
  ticks: ticks0to15, means: crebbpMeans,
  sig: {top: 12.33, left: 11.39, right: 3.74, stars: '***'},
  series: [
    {values: crebbpClassicalValues, cells: crebbpClassicalCells, swarm: crebbpClassicalSwarm},
    {values: crebbpBasalValues, cells: crebbpBasalCells, swarm: crebbpBasalSwarm}
  ]
}));
groupChart(Object.assign({}, dotFrame, {
  name: 'brd4', yMax: 20, axisX: 1004.6, left: 994, right: 1120.8, centers: [1032.3, 1089.6], labelDx: [13.5, 8],
  ticks: ticks0to20, means: brd4Means,
  sig: {top: 18.86, left: 18.2, right: 7.28, stars: '*'},
  series: [
    {values: brd4ClassicalValues, cells: brd4ClassicalCells, swarm: brd4ClassicalSwarm},
    {values: brd4BasalValues, cells: brd4BasalCells, swarm: brd4BasalSwarm}
  ]
}));
groupChart(Object.assign({}, dotFrame, {
  name: 'smarca4', yMax: 20, axisX: 1223.6, left: 1212, right: 1339, centers: [1251, 1307], labelDx: [13.5, 10],
  ticks: ticks0to20, means: smarca4Means,
  series: [
    {values: smarca4ClassicalValues, cells: smarca4ClassicalCells, swarm: smarca4ClassicalSwarm},
    {values: smarca4BasalValues, cells: smarca4BasalCells, swarm: smarca4BasalSwarm}
  ]
}));
</script>
</body>
</html>
